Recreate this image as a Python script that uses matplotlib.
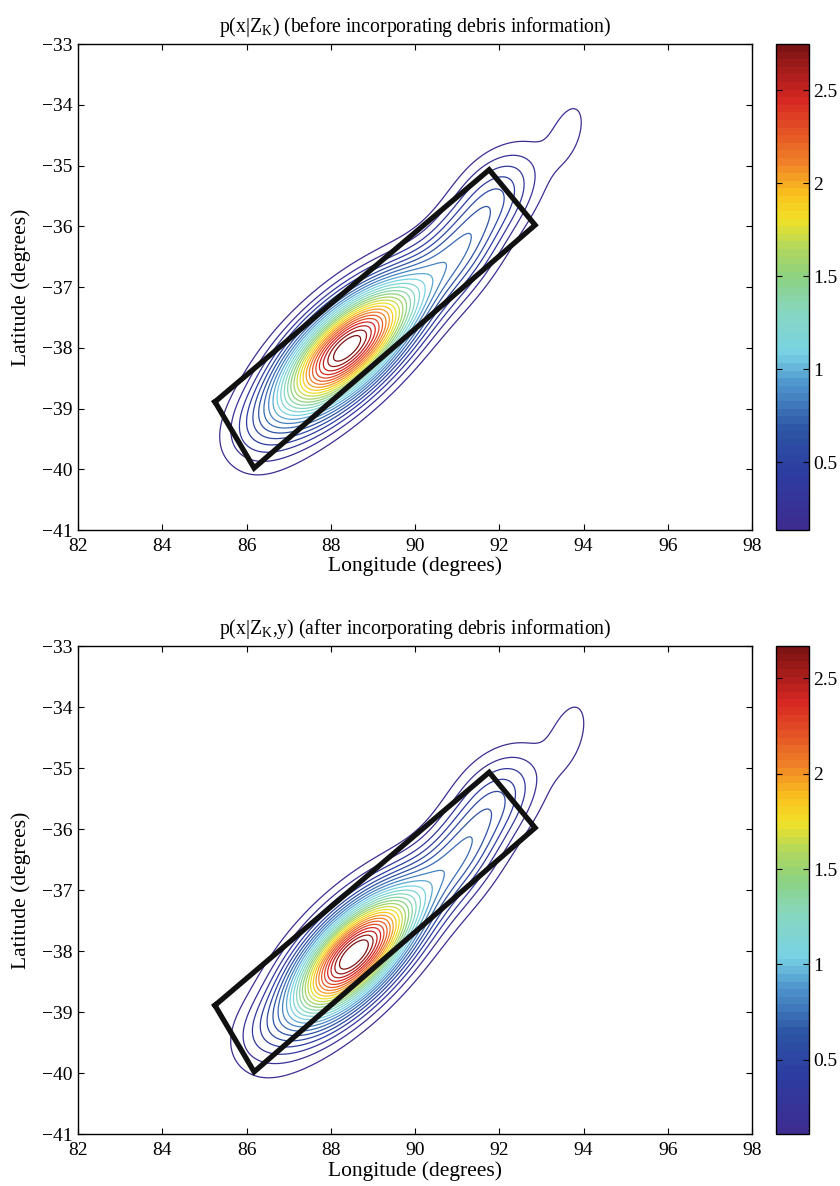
import numpy as np
import matplotlib
matplotlib.use('Agg')
import matplotlib.pyplot as plt
from matplotlib.colors import LinearSegmentedColormap, Normalize, ListedColormap
from matplotlib.cm import ScalarMappable

# ---------------- data ----------------
titles = [r'p(x|Z$_\mathrm{K}$) (before incorporating debris information)',
          r'p(x|Z$_\mathrm{K}$,y) (after incorporating debris information)']
x_label = 'Longitude (degrees)'
y_label = 'Latitude (degrees)'
x_ticks = [82, 84, 86, 88, 90, 92, 94, 96, 98]
y_ticks = [-41, -40, -39, -38, -37, -36, -35, -34, -33]
cbar_ticks = [0.5, 1, 1.5, 2, 2.5]
cbar_ticklabels = ['0.5', '1', '1.5', '2', '2.5']

# density described as a sum of elongated Gaussian bumps (one entry per bump):
# main peak, broad ridge, secondary ridge peak, upper-right shoulder, NE tail lobe, SW shoulder
top_amp = [2.60, 0.40, 0.40, 0.28, 0.15, 0.16]
top_lon = [88.30, 89.70, 91.20, 92.00, 93.65, 86.30]
top_lat = [-38.02, -37.35, -36.35, -35.40, -34.45, -39.30]
top_sdmaj = [1.25, 2.30, 0.80, 0.70, 0.50, 0.65]
top_sdmin = [0.48, 0.45, 0.45, 0.45, 0.30, 0.38]
top_angle = [29.0, 38.0, 40.0, 20.0, 60.0, 20.0]
top_level_lo, top_level_hi = 0.136, 2.75

bot_amp = [2.55, 0.38, 0.40, 0.28, 0.15, 0.14]
bot_lon = [88.48, 89.80, 91.20, 92.00, 93.65, 86.40]
bot_lat = [-38.07, -37.35, -36.35, -35.40, -34.45, -39.30]
bot_sdmaj = [1.15, 2.10, 0.80, 0.70, 0.50, 0.60]
bot_sdmin = [0.47, 0.45, 0.45, 0.45, 0.30, 0.36]
bot_angle = [31.0, 38.0, 40.0, 20.0, 60.0, 20.0]
bot_level_lo, bot_level_hi = 0.11, 2.67

n_levels = 26

# debris search box corners (lon, lat)
box_lon = [85.25, 86.18, 92.85, 91.76, 85.25]
box_lat = [-38.89, -39.98, -35.98, -35.07, -38.89]

# printed-jet colour anchors
cmap_pos = [0.0, 0.11, 0.20, 0.30, 0.36, 0.45, 0.52, 0.58, 0.64, 0.69, 0.76, 0.89, 1.0]
cmap_rgb = [(62, 45, 145), (45, 60, 160), (45, 85, 165), (80, 150, 205), (120, 210, 228),
            (135, 215, 190), (140, 210, 130), (175, 215, 95), (240, 225, 40), (250, 195, 30),
            (240, 130, 40), (215, 40, 35), (125, 20, 20)]

# ---------------- drawing ----------------
plt.rcParams['font.family'] = ['Liberation Serif', 'DejaVu Serif']
plt.rcParams['mathtext.fontset'] = 'custom'
plt.rcParams['mathtext.rm'] = 'Liberation Serif'
plt.rcParams['mathtext.it'] = 'Liberation Serif:italic'

base = LinearSegmentedColormap.from_list(
    'pjet', [(p, tuple(c / 255 for c in rgb)) for p, rgb in zip(cmap_pos, cmap_rgb)])
cmap = ListedColormap(base(np.linspace(0, 1, 64)))

lon = np.linspace(82, 98, 641)
lat = np.linspace(-41, -33, 321)
LON, LAT = np.meshgrid(lon, lat)


def field(amp, mlon, mlat, smaj, smin, ang):
    Z = np.zeros_like(LON)
    for a, mx, my, s1, s2, th in zip(amp, mlon, mlat, smaj, smin, ang):
        t = np.deg2rad(th)
        dx, dy = LON - mx, LAT - my
        u = (dx * np.cos(t) + dy * np.sin(t)) / s1
        v = (-dx * np.sin(t) + dy * np.cos(t)) / s2
        Z += a * np.exp(-0.5 * (u * u + v * v))
    return Z


panels = [
    (titles[0], field(top_amp, top_lon, top_lat, top_sdmaj, top_sdmin, top_angle),
     top_level_lo, top_level_hi),
    (titles[1], field(bot_amp, bot_lon, bot_lat, bot_sdmaj, bot_sdmin, bot_angle),
     bot_level_lo, bot_level_hi),
]

fig = plt.figure(figsize=(8.4, 11.86), dpi=100)
ax_rects = [[0.0929, 0.5531, 0.8024, 0.4098], [0.0929, 0.0438, 0.8024, 0.4115]]
cb_rects = [[0.9238, 0.5531, 0.0393, 0.4098], [0.9238, 0.0438, 0.0393, 0.4115]]

for (title, Z, lo, hi), ar, cr in zip(panels, ax_rects, cb_rects):
    ax = fig.add_axes(ar)
    norm = Normalize(vmin=lo, vmax=hi)
    levels = np.linspace(lo, hi, n_levels)
    ax.contour(LON, LAT, Z, levels=levels, cmap=cmap, norm=norm, linewidths=0.9)
    ax.plot(box_lon, box_lat, color='#111111', lw=3.8, solid_joinstyle='miter')
    ax.set_xlim(82, 98)
    ax.set_ylim(-41, -33)
    ax.set_xticks(x_ticks)
    ax.set_yticks(y_ticks)
    ax.tick_params(axis='both', direction='in', top=True, right=True, length=4, width=0.8,
                   labelsize=14)
    ax.tick_params(axis='x', pad=6)
    ax.tick_params(axis='y', pad=4)
    for s in ax.spines.values():
        s.set_linewidth(1.0)
    ax.set_xlabel(x_label, fontsize=15.5, labelpad=1)
    ax.set_ylabel(y_label, fontsize=15.5, labelpad=8)
    ax.set_title(title, fontsize=14.2, pad=9)

    cax = fig.add_axes(cr)
    sm = ScalarMappable(norm=norm, cmap=cmap)
    cb = fig.colorbar(sm, cax=cax, ticks=cbar_ticks)
    cb.ax.set_yticklabels(cbar_ticklabels)
    cb.ax.tick_params(direction='in', left=True, right=True, length=4, width=0.8,
                      labelsize=14, pad=3)
    cb.outline.set_linewidth(1.0)

fig.savefig('out.png', dpi=100)
